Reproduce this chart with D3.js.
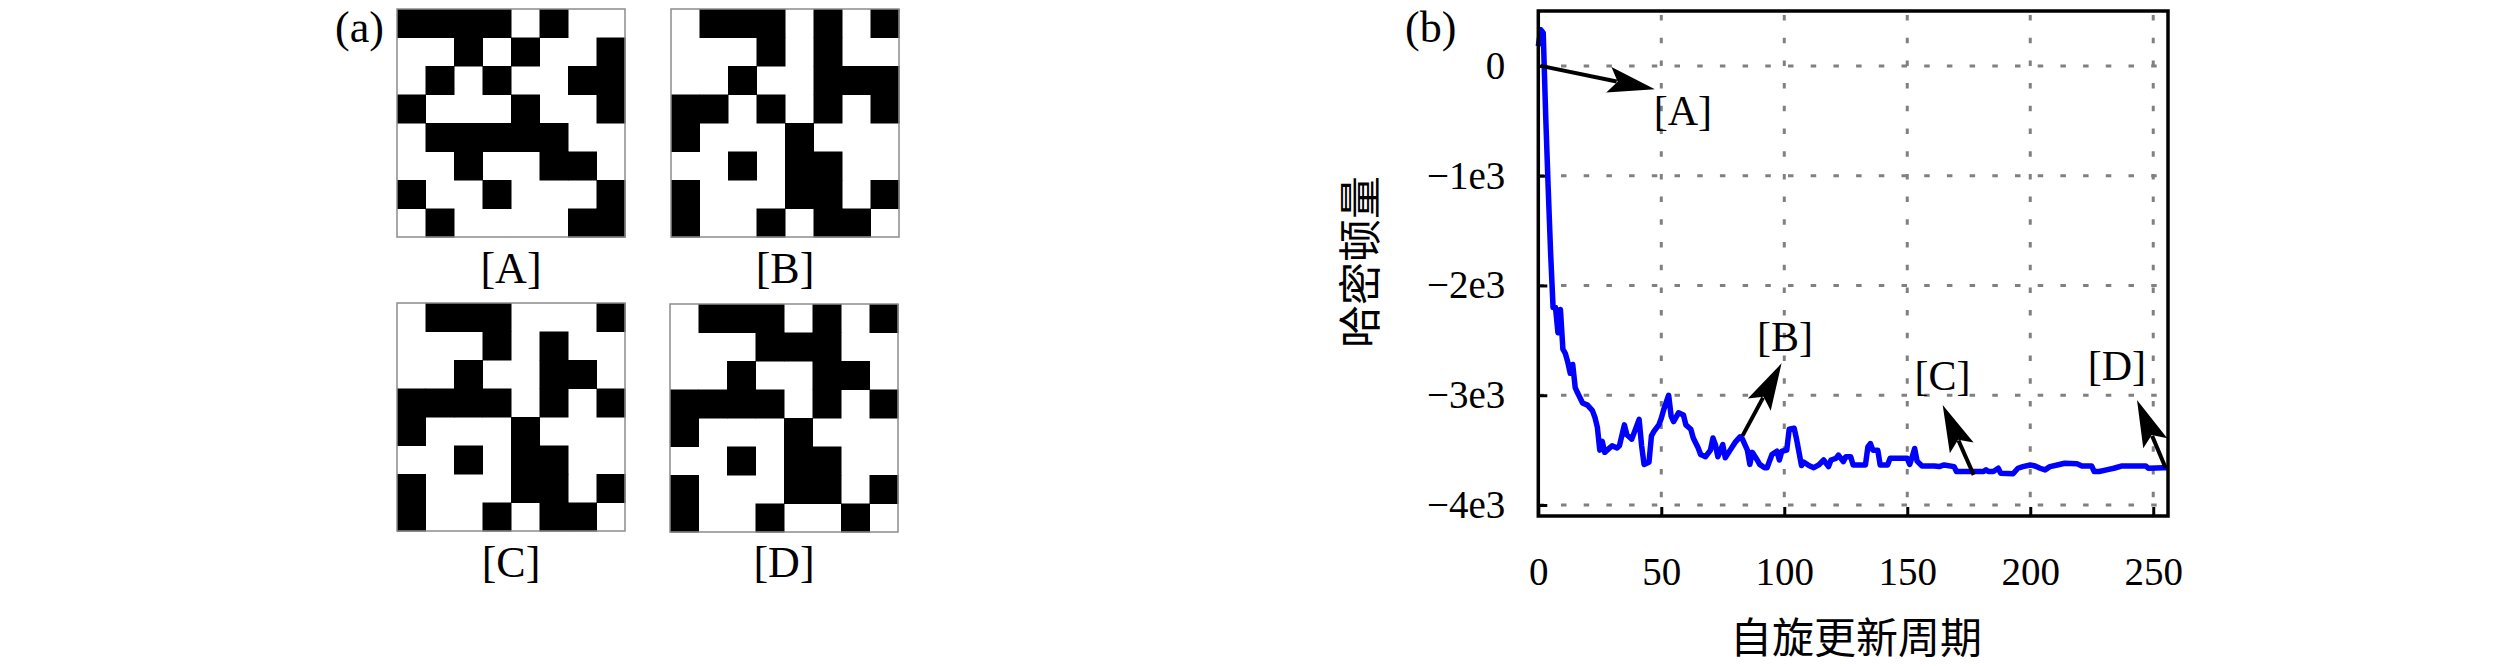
<!DOCTYPE html>
<meta charset="utf-8">
<script src="https://d3js.org/d3.v7.min.js"></script>
<style>
body { margin: 0; background: #fff; }
text { fill: #000; }
.serif { font-family: "Liberation Serif", "Times New Roman", serif; }
.cjk { font-family: "Noto Sans CJK SC", sans-serif; }
</style>
<body>
<script>
// spin configurations (1 = black cell), row by row
var gridA = [
  [1,1,1,1,0,1,0,0],
  [0,0,1,0,1,0,0,1],
  [0,1,0,1,0,0,1,1],
  [1,0,0,0,1,0,0,1],
  [0,1,1,1,1,1,0,0],
  [0,0,1,0,0,1,1,0],
  [1,0,0,1,0,0,0,1],
  [0,1,0,0,0,0,1,1]
];
var gridB = [
  [0,1,1,1,0,1,0,1],
  [0,0,0,1,0,1,0,0],
  [0,0,1,0,0,1,1,1],
  [1,1,0,1,0,1,0,1],
  [1,0,0,0,1,0,0,0],
  [0,0,1,0,1,1,0,0],
  [1,0,0,0,1,1,0,1],
  [1,0,0,1,0,1,1,0]
];
var gridC = [
  [0,1,1,1,0,0,0,1],
  [0,0,0,1,0,1,0,0],
  [0,0,1,0,0,1,1,0],
  [1,1,1,1,0,1,0,1],
  [1,0,0,0,1,0,0,0],
  [0,0,1,0,1,1,0,0],
  [1,0,0,0,1,1,0,1],
  [1,0,0,1,0,1,1,0]
];
var gridD = [
  [0,1,1,1,0,1,0,1],
  [0,0,0,1,1,1,0,0],
  [0,0,1,0,0,1,1,0],
  [1,1,1,1,0,1,0,1],
  [1,0,0,0,1,0,0,0],
  [0,0,1,0,1,1,0,0],
  [1,0,0,0,1,1,0,1],
  [1,0,0,1,0,0,1,0]
];
var gridNames = ['[A]', '[B]', '[C]', '[D]'];

// energy curve
var steps = [0,1,2,3,4,5,6,7,8,9,10,11,12,13,14,15,16,
  18,20,22,23,24,25,26,27,28,
  30,32,33,35,36,38,
  41,42,43,45,46,47,49,
  50,51,53,54,55,57,59,
  60,62,63,65,66,68,
  70,71,72,73,75,76,78,
  80,82,83,85,86,87,89,
  90,92,93,95,97,98,99,
  101,102,104,105,107,108,
  110,112,114,116,118,119,
  121,122,124,125,127,128,
  133,134,135,136,138,139,
  142,143,
  150,151,152,153,154,156,
  161,163,165,169,
  170,181,182,183,185,187,188,
  193,195,197,
  200,202,204,206,208,
  211,214,219,
  221,225,226,228,
  231,234,237,
  247,248,
  254,256];
var energy = [180,330,300,-450,-1100,-1700,-2200,-2200,-2430,-2220,-2580,-2620,-2700,-2800,-2720,-2930,-2980,
  -3070,-3090,-3140,-3200,-3290,-3500,-3420,-3520,-3500,
  -3460,-3480,-3460,-3270,-3360,-3400,
  -3220,-3460,-3630,-3610,-3370,-3330,-3270,
  -3210,-3130,-3000,-3190,-3240,-3160,-3180,
  -3270,-3310,-3390,-3480,-3540,-3560,
  -3500,-3390,-3450,-3560,-3450,-3570,-3500,
  -3430,-3380,-3400,-3500,-3630,-3520,-3590,
  -3630,-3660,-3660,-3540,-3510,-3590,-3510,
  -3500,-3310,-3300,-3400,-3640,-3610,
  -3640,-3660,-3635,-3590,-3650,-3590,
  -3575,-3545,-3605,-3560,-3560,-3635,
  -3635,-3470,-3440,-3500,-3500,-3635,
  -3635,-3575,
  -3575,-3630,-3560,-3485,-3600,-3645,
  -3645,-3650,-3635,-3650,
  -3695,-3695,-3680,-3695,-3695,-3665,-3710,
  -3715,-3665,-3650,
  -3635,-3645,-3665,-3680,-3650,
  -3635,-3620,-3625,
  -3645,-3645,-3695,-3695,
  -3680,-3665,-3645,
  -3645,-3665,
  -3660,-3660];

var xTicks = [0, 50, 100, 150, 200, 250];
var yTicks = [0, -1000, -2000, -3000, -4000];
var yTickLabels = ['0', '\u22121e3', '\u22122e3', '\u22123e3', '\u22124e3'];

// annotations: point on curve, arrow tip, label position (data units)
var annoLabels = ['[A]', '[B]', '[C]', '[D]'];
var annoFromT = [1, 83, 177, 255];
var annoFromE = [0, -3370, -3725, -3660];
var annoTipT = [47.4, 98.9, 164.4, 243.4];
var annoTipE = [-213, -2709, -3088, -3043];
var annoTextT = [58.8, 100.3, 164.3, 235.2];
var annoTextE = [-534, -2596, -2952, -2861];

var W = 2520, H = 666;
var svg = d3.select('body').append('svg')
    .attr('width', W)
    .attr('height', H);

svg.append('rect').attr('width', W).attr('height', H).attr('fill', '#fff');

// ---------- panel (a): four spin grids ----------
var gridSize = 228;
var cell = d3.scaleBand().domain(d3.range(8)).range([0, gridSize]);
var grids = [gridA, gridB, gridC, gridD];
var gridPos = [[397, 9], [671, 9], [397, 303], [670, 304]];
var gridLabelY = [283, 283, 577, 577];

grids.forEach(function(g, k) {
    var gg = svg.append('g')
        .attr('transform', 'translate(' + gridPos[k][0] + ',' + gridPos[k][1] + ')');
    gg.append('rect')
        .attr('width', gridSize)
        .attr('height', gridSize)
        .attr('fill', '#fff');
    var cells = [];
    g.forEach(function(row, r) {
        row.forEach(function(v, c) { if (v) cells.push({r: r, c: c}); });
    });
    gg.selectAll('rect.cell')
        .data(cells)
        .enter()
        .append('rect')
        .attr('class', 'cell')
        .attr('x', function(d) { return cell(d.c); })
        .attr('y', function(d) { return cell(d.r); })
        .attr('width', cell.bandwidth() + 0.5)
        .attr('height', cell.bandwidth() + 0.5)
        .attr('fill', '#000');
    gg.append('rect')
        .attr('width', gridSize)
        .attr('height', gridSize)
        .attr('fill', 'none')
        .attr('stroke', '#8c8c8c')
        .attr('stroke-width', 1.5);

    svg.append('text')
        .attr('class', 'serif')
        .attr('x', gridPos[k][0] + gridSize / 2)
        .attr('y', gridLabelY[k])
        .attr('text-anchor', 'middle')
        .style('font-size', '44px')
        .text(gridNames[k]);
});

svg.append('text')
    .attr('class', 'serif')
    .attr('x', 335)
    .attr('y', 42)
    .style('font-size', '44px')
    .text('(a)');

// ---------- panel (b): energy curve ----------
var plot = {left: 1538.3, right: 2168, top: 11, bottom: 516};
var x = d3.scaleLinear().domain([0, 256]).range([plot.left, plot.right]);
var y = d3.scaleLinear().domain([-4100, 500]).range([plot.bottom, plot.top]);

// grid
svg.append('g')
    .selectAll('line')
    .data(yTicks)
    .enter()
    .append('line')
    .attr('x1', x(0))
    .attr('x2', x(256))
    .attr('y1', function(d) { return y(d); })
    .attr('y2', function(d) { return y(d); })
    .attr('stroke', '#808080')
    .attr('stroke-width', 3)
    .attr('stroke-dasharray', '5.5 17.2');

svg.append('g')
    .selectAll('line')
    .data(xTicks.slice(1))
    .enter()
    .append('line')
    .attr('x1', function(d) { return x(d); })
    .attr('x2', function(d) { return x(d); })
    .attr('y1', y(500))
    .attr('y2', y(-4100))
    .attr('stroke', '#808080')
    .attr('stroke-width', 3)
    .attr('stroke-dasharray', '5.5 17.2')
    .attr('stroke-dashoffset', -4);

// axes
var yAxis = svg.append('g')
    .attr('transform', 'translate(' + plot.left + ',0)')
    .call(d3.axisLeft(y)
        .tickValues(yTicks)
        .tickSize(-9)
        .tickPadding(33)
        .tickFormat(function(d, i) { return yTickLabels[i]; }));
yAxis.select('.domain').remove();
yAxis.selectAll('line').attr('stroke', '#000').attr('stroke-width', 3);
yAxis.selectAll('text')
    .attr('class', 'serif')
    .style('font-size', '39px');

var xAxis = svg.append('g')
    .attr('transform', 'translate(0,' + plot.bottom + ')')
    .call(d3.axisBottom(x)
        .tickValues(xTicks)
        .tickSize(-9)
        .tickFormat(d3.format('d')));
xAxis.select('.domain').remove();
xAxis.selectAll('line').attr('stroke', '#000').attr('stroke-width', 3);
xAxis.selectAll('text')
    .attr('class', 'serif')
    .attr('y', 69)
    .attr('dy', 0)
    .style('font-size', '39px');

// curve
var pts = steps.map(function(s, i) { return [s, energy[i]]; });
svg.append('path')
    .datum(pts)
    .attr('fill', 'none')
    .attr('stroke', '#0000ff')
    .attr('stroke-width', 5.5)
    .attr('stroke-linejoin', 'round')
    .attr('d', d3.line()
        .x(function(d) { return x(d[0]); })
        .y(function(d) { return y(d[1]); }));

// frame
svg.append('rect')
    .attr('x', plot.left)
    .attr('y', plot.top)
    .attr('width', plot.right - plot.left)
    .attr('height', plot.bottom - plot.top)
    .attr('fill', 'none')
    .attr('stroke', '#000')
    .attr('stroke-width', 3.5);

// annotations
function arrow(x0, y0, x1, y1) {
    var dx = x1 - x0, dy = y1 - y0;
    var len = Math.sqrt(dx * dx + dy * dy);
    var ux = dx / len, uy = dy / len;
    var headLen = 47, halfW = 13;
    var bx = x1 - ux * headLen, by = y1 - uy * headLen;
    svg.append('line')
        .attr('x1', x0).attr('y1', y0)
        .attr('x2', bx + ux * 8).attr('y2', by + uy * 8)
        .attr('stroke', '#000')
        .attr('stroke-width', 4);
    svg.append('path')
        .attr('d', 'M' + x1 + ',' + y1 +
            'L' + (bx - uy * halfW) + ',' + (by + ux * halfW) +
            'L' + (bx + ux * 9) + ',' + (by + uy * 9) +
            'L' + (bx + uy * halfW) + ',' + (by - ux * halfW) + 'Z')
        .attr('fill', '#000');
}

annoLabels.forEach(function(lab, i) {
    arrow(x(annoFromT[i]), y(annoFromE[i]), x(annoTipT[i]), y(annoTipE[i]));
    svg.append('text')
        .attr('class', 'serif')
        .attr('x', x(annoTextT[i]))
        .attr('y', y(annoTextE[i]))
        .attr('text-anchor', 'middle')
        .style('font-size', '42px')
        .text(lab);
});

// axis titles
svg.append('text')
    .attr('class', 'cjk')
    .attr('x', 1856)
    .attr('y', 653)
    .attr('text-anchor', 'middle')
    .style('font-size', '42px')
    .text('自旋更新周期');

svg.append('text')
    .attr('class', 'cjk')
    .attr('transform', 'translate(1376,262) rotate(-90)')
    .attr('text-anchor', 'middle')
    .style('font-size', '43px')
    .text('哈密顿量');

svg.append('text')
    .attr('class', 'serif')
    .attr('x', 1405)
    .attr('y', 42)
    .style('font-size', '44px')
    .text('(b)');
</script>
</body>
</html>
